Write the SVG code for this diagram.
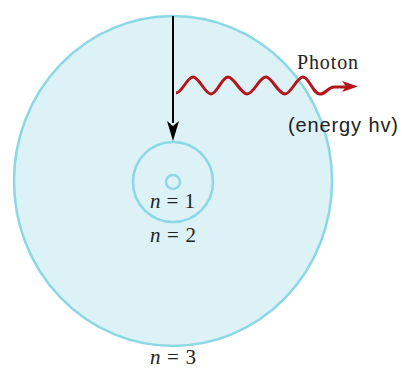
<svg xmlns="http://www.w3.org/2000/svg" width="402" height="369" viewBox="0 0 402 369">
<style>
.orbit{fill:#dcf2f7;stroke:#8bd8e4;stroke-width:2.5}
.inner{fill:none;stroke:#8bd8e4;stroke-width:2.5}
.lbl{font-family:"Liberation Serif","Times New Roman",serif;font-size:21px;fill:#222}
.lbl tspan.n{font-style:italic}
.photon{font-family:"Liberation Serif","Times New Roman",serif;font-size:20px;fill:#222}
.energy{font-family:"Liberation Sans",Arial,sans-serif;font-size:20px;fill:#222}
</style>
<rect width="402" height="369" fill="#fff"/>
<g id="orbit-n3"><ellipse class="orbit" cx="173" cy="181" rx="159" ry="165"/></g>
<g id="orbit-n2"><circle class="inner" cx="173" cy="182" r="40"/></g>
<g id="orbit-n1"><circle class="inner" cx="173" cy="182" r="7"/></g>
<g id="connectors">
<path d="M173,16 L173,123" stroke="#000" stroke-width="2"/>
<path d="M167,121 L173,126 L179,121 L173,141 Z" fill="#000"/>
<path d="M176,93 C182,93 187,77 193,77 C199,77 205,94 211,94 C217,94 222,77 228,77 C234,77 241,94 247,94 C254,94 259,77 266,77 C272,77 278,94 285,94 C291,94 297,77 303,77 C309,77 313,94 320,94 C326,94 328,87 334,87 L346,87" fill="none" stroke="#b3151b" stroke-width="3"/>
<path d="M342,81 L358,86.5 L342,92 L346,86.5 Z" fill="#b3151b"/>
</g>
<g id="labels">
<text class="photon" x="297" y="69" textLength="61">Photon</text>
<text class="energy" x="288" y="132" textLength="110">(energy hv)</text>
<text class="lbl" x="150" y="208" textLength="45"><tspan class="n">n</tspan> = 1</text>
<text class="lbl" x="150" y="242" textLength="46"><tspan class="n">n</tspan> = 2</text>
<text class="lbl" x="150" y="364" textLength="46"><tspan class="n">n</tspan> = 3</text>
</g>
</svg>
